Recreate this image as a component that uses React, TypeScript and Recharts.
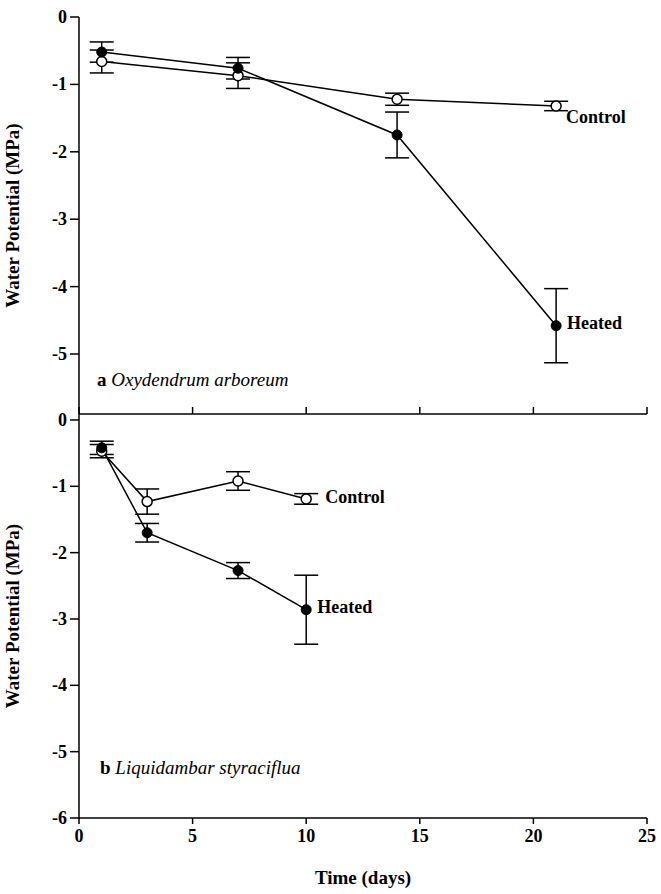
import { LineChart, Line, XAxis, YAxis, ErrorBar } from 'recharts';

// panel a: Oxydendrum arboreum
const daysA = [1, 7, 14, 21];
const controlA = [-0.66, -0.87, -1.22, -1.32];
const controlErrA = [0.17, 0.19, 0.09, 0.07];
const heatedA = [-0.52, -0.76, -1.75, -4.58];
const heatedErrA = [0.15, 0.16, 0.34, 0.55];

// panel b: Liquidambar styraciflua
const daysB = [1, 3, 7, 10];
const controlB = [-0.47, -1.23, -0.92, -1.19];
const controlErrB = [0.1, 0.19, 0.14, 0.08];
const heatedB = [-0.42, -1.7, -2.27, -2.86];
const heatedErrB = [0.1, 0.14, 0.12, 0.52];

const xTicks = [0, 5, 10, 15, 20, 25];
const yTicksA = [0, -1, -2, -3, -4, -5];
const yTicksB = [0, -1, -2, -3, -4, -5, -6];

const FONT = "'Liberation Serif', 'DejaVu Serif', 'Noto Serif', Times, serif";

const build = (days: number[], c: number[], ce: number[], h: number[], he: number[]) =>
  days.map((d, i) => ({ day: d, control: c[i], controlErr: ce[i], heated: h[i], heatedErr: he[i] }));

const dataA = build(daysA, controlA, controlErrA, heatedA, heatedErrA);
const dataB = build(daysB, controlB, controlErrB, heatedB, heatedErrB);

const axisLine = { stroke: '#000', strokeWidth: 1.5 };
const tickLine = { stroke: '#000', strokeWidth: 1.5 };

const textStyle = (size: number) => ({ fontFamily: FONT, fontSize: size, fontWeight: 700 });

// custom ticks so the serif font and size actually stick
const YTick = (props: any) => (
  <text x={props.x} y={props.y} textAnchor="end" dominantBaseline="central" fill="#000" style={textStyle(18)}>
    {props.payload.value}
  </text>
);

const XTick = (props: any) => (
  <text x={props.x} y={props.y} textAnchor="middle" dominantBaseline="hanging" fill="#000" style={textStyle(18)}>
    {props.payload.value}
  </text>
);

const endLabel = (text: string, last: number, dx: number, dy: number) => (props: any) => {
  if (props.index !== last) return null;
  return (
    <text x={props.x + dx} y={props.y + dy} dominantBaseline="central" fill="#000" style={textStyle(18)}>
      {text}
    </text>
  );
};

const openDot = { r: 5, fill: '#fff', stroke: '#000', strokeWidth: 1.5 };
const filledDot = { r: 5, fill: '#000', stroke: '#000', strokeWidth: 1 };

const yLabel = {
  value: 'Water Potential (MPa)',
  angle: -90,
  position: 'insideLeft' as const,
  offset: 12,
  style: { textAnchor: 'middle', fill: '#000', ...textStyle(19) },
};

export default function App() {
  return (
    <div style={{ position: 'absolute', left: 0, top: 0, width: 661, height: 894, background: '#fff', fontFamily: FONT }}>
      <div style={{ position: 'absolute', left: 0, top: 0 }}>
        <LineChart width={661} height={420} data={dataA} margin={{ top: 17, right: 14, bottom: 0, left: 0 }}>
          <XAxis
            dataKey="day"
            type="number"
            domain={[0, 25]}
            ticks={xTicks}
            height={6}
            axisLine={axisLine}
            tickLine={tickLine}
            tickSize={-7}
            tickFormatter={() => ''}
          />
          <YAxis
            type="number"
            domain={[-5.89, 0]}
            ticks={yTicksA}
            width={79}
            allowDataOverflow
            axisLine={axisLine}
            tickLine={tickLine}
            tickSize={9}
            tickMargin={3}
            tick={<YTick />}
            label={yLabel}
          />
          <Line
            dataKey="control"
            stroke="#000"
            strokeWidth={1.5}
            dot={openDot}
            activeDot={false}
            isAnimationActive={false}
            label={endLabel('Control', dataA.length - 1, 10, 11)}
          >
            <ErrorBar dataKey="controlErr" direction="y" width={12} stroke="#000" strokeWidth={1.5} />
          </Line>
          <Line
            dataKey="heated"
            stroke="#000"
            strokeWidth={1.5}
            dot={filledDot}
            activeDot={false}
            isAnimationActive={false}
            label={endLabel('Heated', dataA.length - 1, 11, -3)}
          >
            <ErrorBar dataKey="heatedErr" direction="y" width={12} stroke="#000" strokeWidth={1.5} />
          </Line>
        </LineChart>
      </div>
      <div style={{ position: 'absolute', left: 0, top: 400 }}>
        <LineChart width={661} height={494} data={dataB} margin={{ top: 14, right: 14, bottom: 0, left: 0 }}>
          <XAxis
            dataKey="day"
            type="number"
            domain={[0, 25]}
            ticks={xTicks}
            height={76}
            axisLine={axisLine}
            tickLine={tickLine}
            tickSize={6}
            tickMargin={5}
            tick={<XTick />}
            label={{
              value: 'Time (days)',
              position: 'insideBottom',
              offset: 10,
              style: { fill: '#000', ...textStyle(19) },
            }}
          />
          <YAxis
            type="number"
            domain={[-6, 0.09]}
            ticks={yTicksB}
            width={79}
            allowDataOverflow
            axisLine={axisLine}
            tickLine={tickLine}
            tickSize={9}
            tickMargin={3}
            tick={<YTick />}
            label={yLabel}
          />
          <Line
            dataKey="control"
            stroke="#000"
            strokeWidth={1.5}
            dot={openDot}
            activeDot={false}
            isAnimationActive={false}
            label={endLabel('Control', dataB.length - 1, 19, -2)}
          >
            <ErrorBar dataKey="controlErr" direction="y" width={12} stroke="#000" strokeWidth={1.5} />
          </Line>
          <Line
            dataKey="heated"
            stroke="#000"
            strokeWidth={1.5}
            dot={filledDot}
            activeDot={false}
            isAnimationActive={false}
            label={endLabel('Heated', dataB.length - 1, 11, -3)}
          >
            <ErrorBar dataKey="heatedErr" direction="y" width={12} stroke="#000" strokeWidth={1.5} />
          </Line>
        </LineChart>
      </div>
      <div style={{ position: 'absolute', left: 97, top: 369, fontSize: 19, lineHeight: '22px' }}>
        <b>a</b> <i>Oxydendrum arboreum</i>
      </div>
      <div style={{ position: 'absolute', left: 100, top: 757, fontSize: 19, lineHeight: '22px' }}>
        <b>b</b> <i>Liquidambar styraciflua</i>
      </div>
    </div>
  );
}
